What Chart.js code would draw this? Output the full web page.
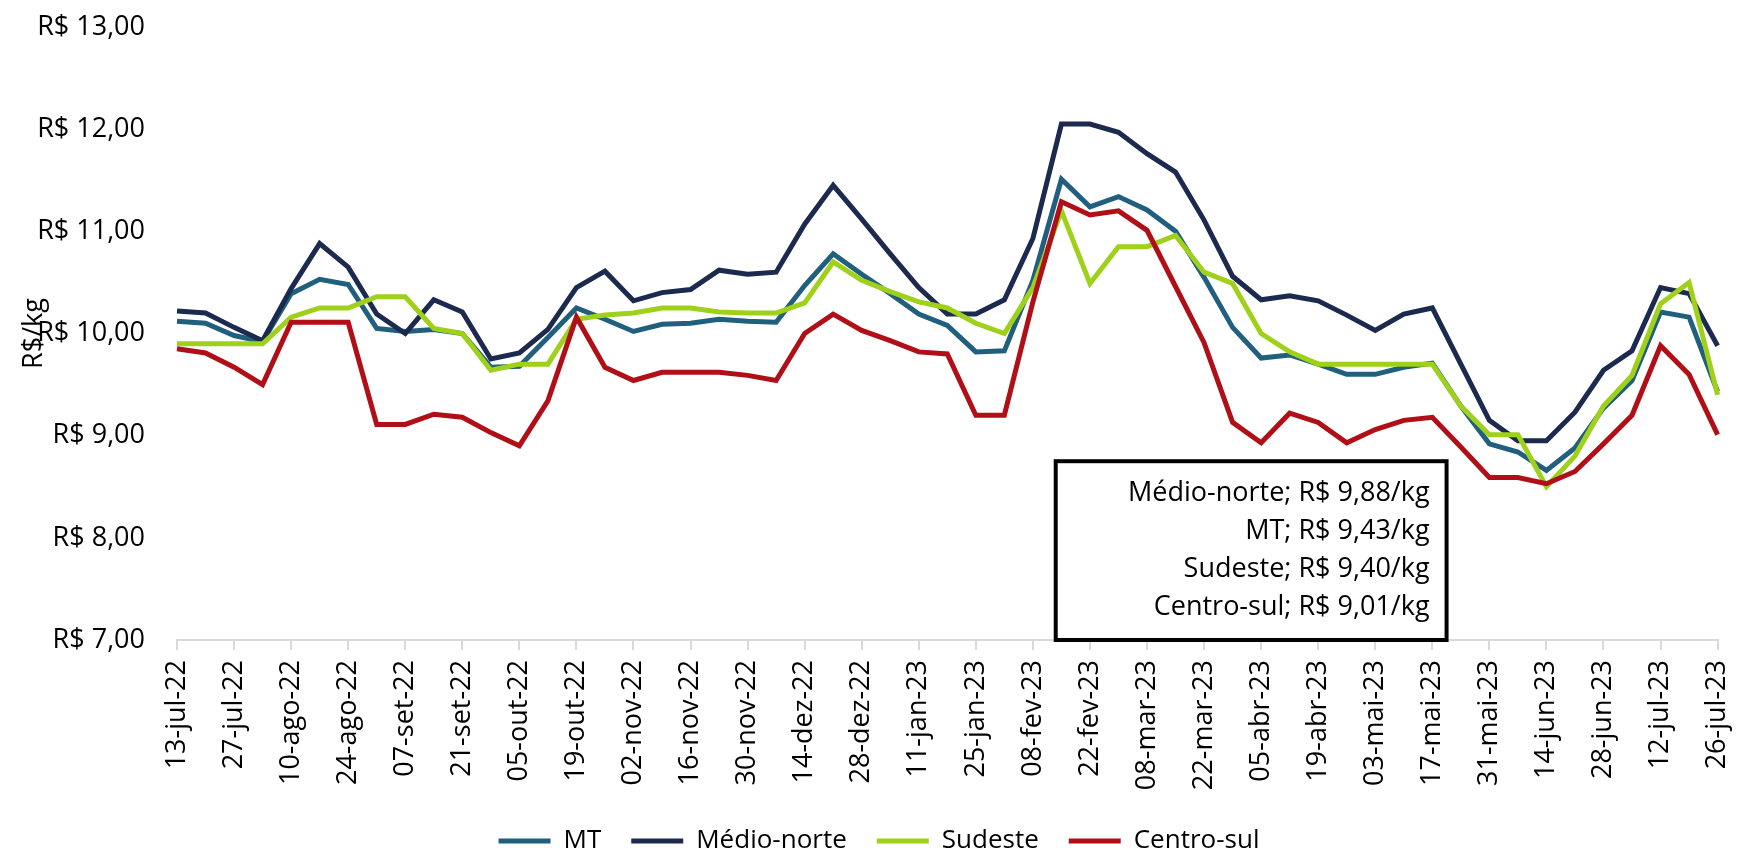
<!DOCTYPE html>
<html lang="pt-BR">
<head>
<meta charset="utf-8">
<title>Preço R$/kg</title>
<script src="https://cdn.jsdelivr.net/npm/chart.js@4.4.1/dist/chart.umd.min.js"></script>
<style>
  html, body { margin: 0; padding: 0; background: #ffffff; }
  #wrap { width: 1760px; height: 853px; }
</style>
</head>
<body>
<div id="wrap"><canvas id="priceChart" width="1760" height="853"></canvas></div>
<script>
// weekly dates (only every other one gets a label on the axis)
const weeks = [
  "13-jul-22", "20-jul-22", "27-jul-22", "03-ago-22", "10-ago-22", "17-ago-22", "24-ago-22",
  "31-ago-22", "07-set-22", "14-set-22", "21-set-22", "28-set-22", "05-out-22", "12-out-22",
  "19-out-22", "26-out-22", "02-nov-22", "09-nov-22", "16-nov-22", "23-nov-22", "30-nov-22",
  "07-dez-22", "14-dez-22", "21-dez-22", "28-dez-22", "04-jan-23", "11-jan-23", "18-jan-23",
  "25-jan-23", "01-fev-23", "08-fev-23", "15-fev-23", "22-fev-23", "01-mar-23", "08-mar-23",
  "15-mar-23", "22-mar-23", "29-mar-23", "05-abr-23", "12-abr-23", "19-abr-23", "26-abr-23",
  "03-mai-23", "10-mai-23", "17-mai-23", "24-mai-23", "31-mai-23", "07-jun-23", "14-jun-23",
  "21-jun-23", "28-jun-23", "05-jul-23", "12-jul-23", "19-jul-23", "26-jul-23"
];

const mt = [
  10.12, 10.10, 9.98, 9.92, 10.39, 10.53, 10.48, 10.05, 10.02, 10.04, 10.00, 9.67, 9.68, 9.96,
  10.25, 10.14, 10.02, 10.09, 10.10, 10.14, 10.12, 10.11, 10.47, 10.78, 10.58, 10.39, 10.19, 10.08,
  9.82, 9.83, 10.52, 11.51, 11.24, 11.34, 11.21, 11.00, 10.55, 10.06, 9.76, 9.79, 9.70, 9.60,
  9.60, 9.67, 9.71, 9.29, 8.92, 8.84, 8.66, 8.88, 9.27, 9.54, 10.21, 10.16, 9.43
];

const medioNorte = [
  10.22, 10.20, 10.06, 9.93, 10.44, 10.88, 10.65, 10.19, 10.00, 10.33, 10.21, 9.75, 9.81, 10.04,
  10.45, 10.61, 10.32, 10.40, 10.43, 10.62, 10.58, 10.60, 11.07, 11.45, 11.12, 10.78, 10.45, 10.19,
  10.19, 10.33, 10.93, 12.05, 12.05, 11.97, 11.76, 11.58, 11.11, 10.56, 10.33, 10.37, 10.32, 10.18,
  10.03, 10.19, 10.25, 9.70, 9.15, 8.95, 8.95, 9.23, 9.64, 9.83, 10.45, 10.39, 9.88
];

const sudeste = [
  9.90, 9.90, 9.90, 9.90, 10.16, 10.25, 10.25, 10.36, 10.36, 10.05, 10.00, 9.64, 9.70, 9.70,
  10.14, 10.18, 10.20, 10.25, 10.25, 10.21, 10.20, 10.20, 10.30, 10.70, 10.52, 10.41, 10.31, 10.25,
  10.10, 10.00, 10.45, 11.20, 10.49, 10.85, 10.85, 10.96, 10.60, 10.49, 10.00, 9.82, 9.70, 9.70,
  9.70, 9.70, 9.70, 9.29, 9.01, 9.01, 8.50, 8.80, 9.29, 9.59, 10.29, 10.50, 9.40
];

const centroSul = [
  9.85, 9.81, 9.67, 9.50, 10.11, 10.11, 10.11, 9.11, 9.11, 9.21, 9.18, 9.03, 8.90, 9.34,
  10.16, 9.67, 9.54, 9.62, 9.62, 9.62, 9.59, 9.54, 10.00, 10.19, 10.03, 9.93, 9.82, 9.80,
  9.20, 9.20, 10.31, 11.29, 11.16, 11.20, 11.01, 10.46, 9.91, 9.13, 8.93, 9.22, 9.13, 8.93,
  9.06, 9.15, 9.18, 8.89, 8.59, 8.59, 8.53, 8.65, 8.92, 9.20, 9.88, 9.60, 9.01
];

const seriesNames = ["MT", "Médio-norte", "Sudeste", "Centro-sul"];
const seriesColors = ["#20607e", "#1b2a4e", "#9fd11a", "#b10f17"];
const seriesData = [mt, medioNorte, sudeste, centroSul];

const FONT = "'Open Sans', 'Liberation Sans', sans-serif";
const PLOT_LEFT = 177;
const PLOT_BOTTOM = 640;
const PAD_BOTTOM = -11;

function brl(v) {
  return "R$ " + v.toFixed(2).replace(".", ",");
}

// box with the last value of each series, highest first
const lastValuesBox = {
  id: "lastValuesBox",
  afterDraw(chart) {
    const ctx = chart.ctx;
    const x = chart.scales.x;
    const y = chart.scales.y;
    const left = x.getPixelForValue(30.8);
    const right = x.getPixelForValue(44.5);
    const top = y.getPixelForValue(8.75);
    const bottom = y.getPixelForValue(7);

    ctx.save();
    ctx.fillStyle = "#ffffff";
    ctx.fillRect(left, top, right - left, bottom - top);
    ctx.strokeStyle = "#000000";
    ctx.lineWidth = 4;
    ctx.strokeRect(left, top, right - left, bottom - top);

    const rows = seriesNames
      .map((name, i) => ({ name, v: seriesData[i][seriesData[i].length - 1] }))
      .sort((a, b) => b.v - a.v);

    ctx.font = "27px " + FONT;
    ctx.fillStyle = "#000000";
    ctx.textAlign = "right";
    ctx.textBaseline = "middle";
    rows.forEach((r, i) => {
      ctx.fillText(r.name + "; " + brl(r.v) + "/kg", right - 17, top + 32 + i * 38);
    });
    ctx.restore();
  },
};

const ctx = document.getElementById("priceChart").getContext("2d");

new Chart(ctx, {
  type: "line",
  data: {
    labels: weeks,
    datasets: seriesNames.map((name, i) => ({
      label: name,
      data: seriesData[i],
      borderColor: seriesColors[i],
      backgroundColor: seriesColors[i],
      borderWidth: 5,
      pointRadius: 0,
      tension: 0,
      fill: false,
      order: seriesNames.length - i,
    })),
  },
  options: {
    responsive: false,
    animation: false,
    devicePixelRatio: 1,
    layout: { padding: { left: 18, right: 20, top: 27, bottom: PAD_BOTTOM } },
    scales: {
      x: {
        offset: false,
        grid: {
          drawOnChartArea: false,
          drawTicks: true,
          tickLength: 10,
          color: "#d9d9d9",
          lineWidth: 2,
        },
        border: { display: true, color: "#d9d9d9", width: 2 },
        ticks: {
          autoSkip: false,
          maxRotation: 90,
          minRotation: 90,
          padding: 10,
          color: "#000000",
          font: { family: FONT, size: 27 },
          callback: function (val, idx) {
            return idx % 2 === 0 ? weeks[idx] : null;
          },
        },
        afterFit(scale) {
          const legendH = scale.chart.legend ? scale.chart.legend.height : 60;
          scale.height = scale.chart.height - PAD_BOTTOM - legendH - PLOT_BOTTOM;
        },
      },
      y: {
        min: 7,
        max: 13,
        // tick marks hidden, their length only pushes the labels left
        grid: { display: false, drawTicks: true, tickLength: 32 },
        border: { display: false },
        ticks: {
          stepSize: 1,
          padding: 0,
          color: "#000000",
          font: { family: FONT, size: 27 },
          callback: (v) => brl(v),
        },
        title: {
          display: true,
          text: "R$/kg",
          color: "#000000",
          padding: 0,
          font: { family: FONT, size: 27 },
        },
        afterFit(scale) {
          scale.width = PLOT_LEFT - 18;
        },
      },
    },
    plugins: {
      tooltip: { enabled: false },
      legend: {
        position: "bottom",
        labels: {
          color: "#000000",
          font: { family: FONT, size: 26 },
          boxWidth: 52,
          boxHeight: 5,
          padding: 30,
          generateLabels(chart) {
            return chart.data.datasets.map((ds, i) => ({
              text: ds.label,
              fillStyle: ds.borderColor,
              strokeStyle: ds.borderColor,
              lineWidth: 0,
              hidden: false,
              datasetIndex: i,
              fontColor: "#000000",
            }));
          },
        },
      },
    },
  },
  plugins: [lastValuesBox],
});
</script>
</body>
</html>
